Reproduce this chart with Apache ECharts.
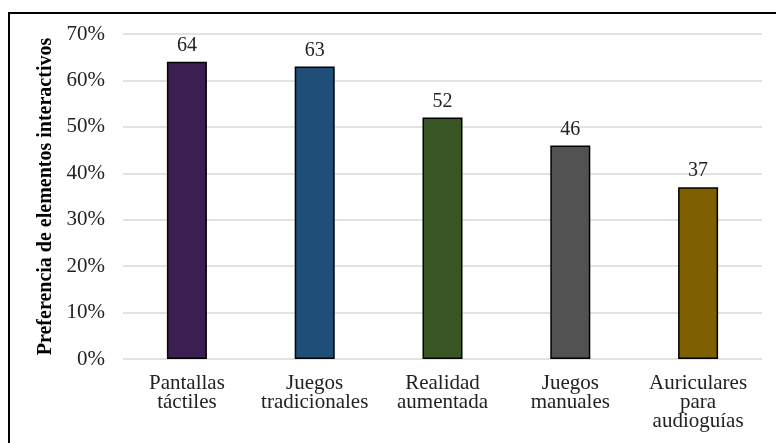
<!DOCTYPE html>
<html><head><meta charset="utf-8">
<script src="https://cdn.jsdelivr.net/npm/echarts@6/dist/echarts.min.js"></script>
<style>html,body{margin:0;padding:0;background:#fff}#c{width:776px;height:443px}</style>
</head><body><div id="c"></div>
<script>
const categories = ["Pantallas\ntáctiles", "Juegos\ntradicionales", "Realidad\naumentada", "Juegos\nmanuales", "Auriculares\npara\naudioguías"];
const values = [64, 63, 52, 46, 37];
const barColors = ["#3b1f52", "#1f4e79", "#375623", "#525252", "#7f6000"];
const yTicks = [0, 10, 20, 30, 40, 50, 60, 70];
const yTitle = "Preferencia de elementos interactivos";

const font = "'Liberation Serif', 'Times New Roman', serif";
const chart = echarts.init(document.getElementById('c'));
chart.setOption({
  animation: false,
  backgroundColor: '#fff',
  grid: { left: 123, right: 14, top: 34, bottom: 84 },
  graphic: [{
    type: 'rect', shape: { x: 9, y: 13, width: 800, height: 500 },
    style: { fill: 'none', stroke: '#000', lineWidth: 2 }, z: 100
  }],
  xAxis: {
    type: 'category', data: categories,
    axisLine: { show: false }, axisTick: { show: false },
    axisLabel: { color: '#222', fontFamily: font, fontSize: 21, lineHeight: 19, margin: 15, interval: 0 }
  },
  yAxis: {
    type: 'value', min: yTicks[0], max: yTicks[yTicks.length - 1], interval: 10,
    name: yTitle, nameLocation: 'middle', nameGap: 66,
    nameTextStyle: { color: '#000', fontFamily: font, fontSize: 20, fontWeight: 'bold' },
    axisLabel: { color: '#222', fontFamily: font, fontSize: 21, margin: 18, formatter: v => v + '%' },
    splitLine: { lineStyle: { color: '#d9d9d9', width: 1.5 } },
    axisLine: { show: false }, axisTick: { show: false }
  },
  series: [{
    type: 'bar', barWidth: 40,
    data: values.map((v, i) => ({ value: v, itemStyle: { color: barColors[i] } })),
    itemStyle: { borderColor: '#000', borderWidth: 1.5 },
    label: { show: true, position: 'top', distance: 6, color: '#222', fontFamily: font, fontSize: 20 }
  }]
});
</script></body></html>
